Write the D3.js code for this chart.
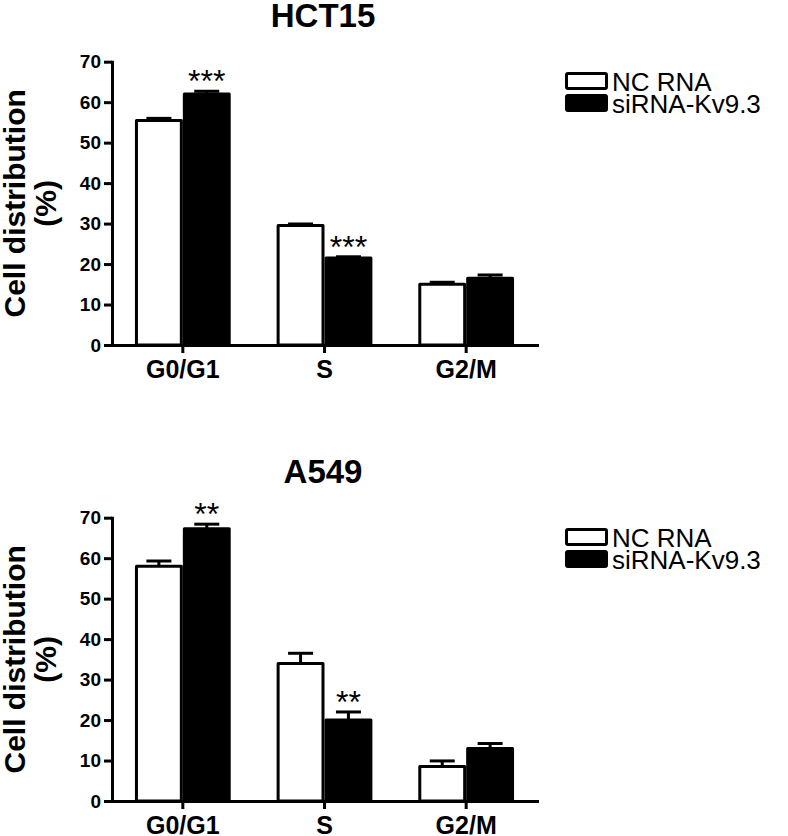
<!DOCTYPE html>
<html>
<head>
<meta charset="utf-8">
<script src="https://cdn.jsdelivr.net/npm/d3@7"></script>
<style>
  html, body { margin: 0; padding: 0; background: #fff; }
  svg { display: block; font-family: "Liberation Sans", Arial, sans-serif; }
</style>
</head>
<body>
<svg id="chart" width="788" height="836"></svg>
<script>
// ---- data ----
const categories = ["G0/G1", "S", "G2/M"];
const seriesNames = ["NC RNA", "siRNA-Kv9.3"];
const yTicks = [0, 10, 20, 30, 40, 50, 60, 70];

const hct15NC = [55.5, 29.5, 15.0];
const hct15NCErr = [0.5, 0.4, 0.5];
const hct15Si = [62.0, 21.5, 16.5];
const hct15SiErr = [0.7, 0.3, 0.8];
const hct15Stars = ["***", "***", ""];

const a549NC = [58.0, 34.0, 8.5];
const a549NCErr = [1.3, 2.5, 1.4];
const a549Si = [67.3, 20.0, 13.0];
const a549SiErr = [1.1, 2.0, 1.2];
const a549Stars = ["**", "**", ""];

const panels = [
  { title: "HCT15", nc: hct15NC, ncErr: hct15NCErr, si: hct15Si, siErr: hct15SiErr, stars: hct15Stars },
  { title: "A549", nc: a549NC, ncErr: a549NCErr, si: a549Si, siErr: a549SiErr, stars: a549Stars }
];

// ---- layout ----
const svg = d3.select("#chart");
const panelOffset = 456;
const fills = ["#fff", "#000"];
const LW = 3;

const x = d3.scaleBand().domain(categories).range([112, 537])
  .paddingInner(0.324).paddingOuter(0.162);
const xs = d3.scaleBand().domain(seriesNames).range([0, x.bandwidth()]).padding(0);

panels.forEach((p, pi) => {
  const g = svg.append("g").attr("transform", `translate(0,${pi * panelOffset})`);
  const y = d3.scaleLinear().domain([0, 70]).range([345, 61.7]);

  // title
  g.append("text").attr("x", 323).attr("y", 27).attr("text-anchor", "middle")
    .style("font-size", "33px").attr("font-weight", "bold").text(p.title);

  // y axis label
  const yl = g.append("text").attr("transform", `translate(0,${(y(0) + y(70)) / 2}) rotate(-90)`)
    .attr("text-anchor", "middle").style("font-size", "30px").attr("font-weight", "bold");
  yl.append("tspan").attr("x", 0).attr("y", 25).text("Cell distribution");
  yl.append("tspan").attr("x", 0).attr("y", 56).text("(%)");

  // bars
  const rows = [];
  categories.forEach((c, i) => {
    rows.push({ cat: c, s: seriesNames[0], v: p.nc[i], e: p.ncErr[i], k: 0 });
    rows.push({ cat: c, s: seriesNames[1], v: p.si[i], e: p.siErr[i], k: 1 });
  });

  // error bars (drawn first, beneath bars)
  const capW = 25;
  rows.forEach(r => {
    const cx = x(r.cat) + xs(r.s) + xs.bandwidth() / 2;
    g.append("line").attr("x1", cx).attr("x2", cx).attr("y1", y(r.v)).attr("y2", y(r.v + r.e))
      .attr("stroke", "#000").attr("stroke-width", LW);
    g.append("line").attr("x1", cx - capW / 2).attr("x2", cx + capW / 2)
      .attr("y1", y(r.v + r.e)).attr("y2", y(r.v + r.e))
      .attr("stroke", "#000").attr("stroke-width", LW);
  });

  g.selectAll("rect.bar").data(rows).join("rect").attr("class", "bar")
    .attr("x", r => x(r.cat) + xs(r.s) + LW / 2)
    .attr("width", xs.bandwidth() - LW)
    .attr("y", r => y(r.v))
    .attr("height", r => y(0) - y(r.v))
    .attr("fill", r => fills[r.k]).attr("stroke", "#000").attr("stroke-width", LW)
    .attr("stroke-linejoin", "round");

  // significance stars above siRNA bars
  categories.forEach((c, i) => {
    if (!p.stars[i]) return;
    const cx = x(c) + xs(seriesNames[1]) + xs.bandwidth() / 2;
    g.append("text").attr("x", cx).attr("y", y(p.si[i] + p.siErr[i]) + 1)
      .attr("text-anchor", "middle").style("font-size", "32px").text(p.stars[i]);
  });

  // axes
  const ya = g.append("g").attr("transform", "translate(112,0)")
    .call(d3.axisLeft(y).tickValues(yTicks).tickSize(8).tickSizeOuter(0).tickPadding(3));
  ya.attr("font-size", null).attr("font-family", null);
  ya.selectAll("text").style("font-size", "19px").attr("font-weight", "bold").attr("fill", "#000");

  const xa = g.append("g").attr("transform", `translate(0,${y(0)})`)
    .call(d3.axisBottom(x).tickSize(8).tickSizeOuter(0).tickPadding(7));
  xa.attr("font-size", null).attr("font-family", null);
  xa.selectAll("text").style("font-size", "25px").attr("font-weight", "bold").attr("fill", "#000");

  [ya, xa].forEach(a => {
    a.selectAll("path.domain").attr("stroke", "#000").attr("stroke-width", LW).attr("stroke-linecap", "square");
    a.selectAll(".tick line").attr("stroke", "#000").attr("stroke-width", LW);
  });

  // legend
  const lg = g.append("g").attr("transform", "translate(565,72)");
  seriesNames.forEach((s, k) => {
    lg.append("rect").attr("x", LW / 2).attr("y", k * 22 + LW / 2).attr("width", 43 - LW).attr("height", 18 - LW)
      .attr("rx", 1.5).attr("fill", fills[k]).attr("stroke", "#000").attr("stroke-width", LW);
    lg.append("text").attr("x", 47).attr("y", k * 22 + 18.5).style("font-size", "26px").text(s);
  });
});
</script>
</body>
</html>
